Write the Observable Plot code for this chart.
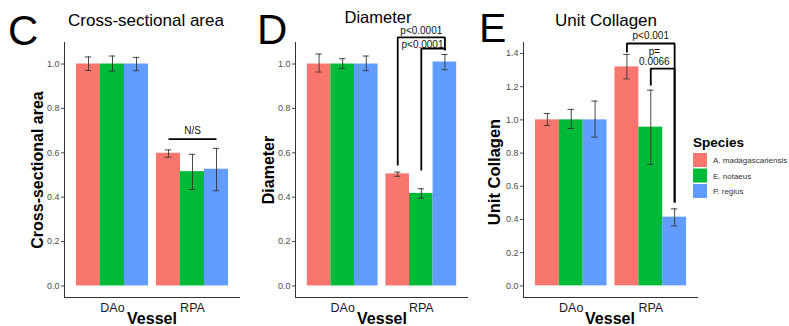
<!DOCTYPE html>
<html><head><meta charset="utf-8">
<script src="https://cdn.jsdelivr.net/npm/d3@7"></script>
<script src="https://cdn.jsdelivr.net/npm/@observablehq/plot@0.6"></script>
<style>
html,body{margin:0;padding:0;background:#fff;}
#wrap{position:relative;width:789px;height:326px;overflow:hidden;font-family:"Liberation Sans",Arial,sans-serif;}
#wrap > div.p{position:absolute;top:0;}
#wrap svg{overflow:visible;}
[aria-label^="x-axis"] text{font-size:12.5px;fill:#1a1a1a;}
#overlay{position:absolute;left:0;top:0;pointer-events:none;}
</style></head><body><div id="wrap"></div>
<script>
// ---- data ----
const species = ["A. madagascariensis", "E. notaeus", "P. regius"];
const vessels = ["DAo", "RPA"];
const colors = ["#F8766D", "#00BA38", "#619CFF"];

// order: DAo (A, E, P), RPA (A, E, P)
const areaMean = [1.0, 1.0, 1.0, 0.598, 0.515, 0.526];
const areaLo   = [0.971, 0.968, 0.970, 0.580, 0.435, 0.429];
const areaHi   = [1.032, 1.036, 1.030, 0.613, 0.593, 0.620];

const diamMean = [1.0, 1.0, 1.0, 0.505, 0.417, 1.009];
const diamLo   = [0.964, 0.980, 0.970, 0.494, 0.396, 0.974];
const diamHi   = [1.045, 1.024, 1.036, 0.513, 0.438, 1.043];

const collMean = [1.0, 1.0, 1.0, 1.319, 0.956, 0.414];
const collLo   = [0.966, 0.948, 0.896, 1.247, 0.731, 0.361];
const collHi   = [1.038, 1.063, 1.113, 1.394, 1.179, 0.464];

const ticks10 = [0, 0.2, 0.4, 0.6, 0.8, 1.0];
const ticks14 = [0, 0.2, 0.4, 0.6, 0.8, 1.0, 1.2, 1.4];

// significance brackets in RPA group (species index from/to, y of top bar, feet)
const areaBrackets = [{from: 0, to: 2, top: 0.662, footFrom: 0.662, footTo: 0.662}];
const areaLabels   = [{k: 1, y: 0.698, text: "N/S"}];
const diamBrackets = [
  {from: 0, to: 2, top: 1.12, footFrom: 0.543, footTo: 1.062},
  {from: 1, to: 2, top: 1.07, footFrom: 0.52, footTo: 1.062}
];
const diamLabels = [
  {k: 1.0, y: 1.149, text: "p<0.0001"},
  {k: 1.05, y: 1.088, text: "p<0.0001"}
];
const collBrackets = [
  {from: 0, to: 2, top: 1.46, footFrom: 1.406, footTo: 0.502},
  {from: 1, to: 2, top: 1.309, footFrom: 1.207, footTo: 0.502}
];
const collLabels = [
  {k: 1.0, y: 1.505, text: "p<0.001"},
  {k: 1.15, y: 1.382, text: "p=\n0.0066"}
];

// ---- helpers ----
const GROUP_W = 0.9, BAR_W = GROUP_W / species.length;
const xc = (g, k) => g - GROUP_W / 2 + BAR_W * (k + 0.5);

function rows(mean, lo, hi) {
  return mean.map((m, i) => {
    const g = Math.floor(i / species.length) + 1, k = i % species.length;
    return {vessel: vessels[g - 1], species: species[k], g, k, mean: m, lo: lo[i], hi: hi[i]};
  });
}
function bracketPts(brs) {
  const pts = [];
  brs.forEach((b, id) => {
    const g = 2;
    pts.push({id, x: xc(g, b.from), y: b.footFrom});
    pts.push({id, x: xc(g, b.from), y: b.top});
    pts.push({id, x: xc(g, b.to), y: b.top});
    pts.push({id, x: xc(g, b.to), y: b.footTo});
  });
  return pts;
}

const FONT = '"Liberation Sans", Arial, sans-serif';
const XDOM = [0.4, 2.6];

function panel({left, width, mL, mR, yDomain, yTicks, mean, lo, hi, brackets, labels}) {
  const data = rows(mean, lo, hi);
  const cap = 0.04;
  const svg = Plot.plot({
    width, height: 326,
    marginTop: 42, marginBottom: 29, marginLeft: mL, marginRight: mR,
    x: {domain: XDOM, ticks: [1, 2], tickFormat: i => vessels[i - 1], tickSize: 0, tickPadding: 6, label: null},
    y: {domain: yDomain, ticks: yTicks, tickFormat: d3.format(".1f"), tickSize: 3, tickPadding: 2, label: null},
    color: {domain: species, range: colors},
    style: {fontFamily: FONT, fontSize: "9px", color: "#4D4D4D", background: "transparent", overflow: "visible"},
    marks: [
      Plot.rect(data, {x1: d => d.g - GROUP_W / 2 + BAR_W * d.k, x2: d => d.g - GROUP_W / 2 + BAR_W * (d.k + 1), y1: 0, y2: "mean", fill: "species"}),
      Plot.ruleX(data, {x: d => xc(d.g, d.k), y1: "lo", y2: "hi", stroke: "#333", strokeWidth: 0.9}),
      Plot.ruleY(data, {y: "lo", x1: d => xc(d.g, d.k) - cap, x2: d => xc(d.g, d.k) + cap, stroke: "#333", strokeWidth: 0.9}),
      Plot.ruleY(data, {y: "hi", x1: d => xc(d.g, d.k) - cap, x2: d => xc(d.g, d.k) + cap, stroke: "#333", strokeWidth: 0.9}),
      Plot.ruleY([yDomain[0]], {stroke: "#333", strokeWidth: 1}),
      Plot.ruleX([XDOM[0]], {stroke: "#333", strokeWidth: 1}),
      Plot.line(bracketPts(brackets), {x: "x", y: "y", z: "id", stroke: "black", strokeWidth: 1.8, strokeLinejoin: "miter", strokeLinecap: "butt"}),
      Plot.text(labels, {x: d => xc(2, d.k), y: "y", text: "text", fontSize: 10, fill: "#111", lineAnchor: "middle", lineHeight: 1.05})
    ]
  });
  const div = document.createElement("div");
  div.className = "p";
  div.style.left = left + "px";
  div.style.width = width + "px";
  div.appendChild(svg);
  document.getElementById("wrap").appendChild(div);
}

panel({left: 0, width: 255, mL: 64, mR: 15, yDomain: [-0.052, 1.097], yTicks: ticks10,
       mean: areaMean, lo: areaLo, hi: areaHi, brackets: areaBrackets, labels: areaLabels});
panel({left: 255, width: 215, mL: 40, mR: 2, yDomain: [-0.052, 1.097], yTicks: ticks10,
       mean: diamMean, lo: diamLo, hi: diamHi, brackets: diamBrackets, labels: diamLabels});
panel({left: 470, width: 319, mL: 53, mR: 91, yDomain: [-0.07, 1.466], yTicks: ticks14,
       mean: collMean, lo: collLo, hi: collHi, brackets: collBrackets, labels: collLabels});

// ---- text overlay: panel letters, titles, axis titles, legend ----
const letters = [["C", 8, 45, 42], ["D", 257, 44, 42], ["E", 479, 42, 41]];
const titles = [["Cross-sectional area", 146, 26, 17], ["Diameter", 378, 23, 16.5], ["Unit Collagen", 606, 26, 17]];
const yTitles = [["Cross-sectional area", 43, 170, 16], ["Diameter", 274, 170, 16], ["Unit Collagen", 500, 172, 16.5]];
const xTitles = [["Vessel", 152, 324], ["Vessel", 382, 324], ["Vessel", 610, 324]];

const ov = d3.select("#wrap").append("svg").attr("id", "overlay").attr("width", 789).attr("height", 326)
  .style("font-family", FONT);
ov.selectAll(".letter").data(letters).join("text").attr("class", "letter")
  .attr("x", d => d[1]).attr("y", d => d[2]).attr("font-size", d => d[3]).attr("fill", "#000").text(d => d[0]);
ov.selectAll(".title").data(titles).join("text").attr("class", "title")
  .attr("x", d => d[1]).attr("y", d => d[2]).attr("font-size", d => d[3]).attr("text-anchor", "middle").attr("fill", "#000").text(d => d[0]);
ov.selectAll(".ytitle").data(yTitles).join("text").attr("class", "ytitle")
  .attr("transform", d => `translate(${d[1]},${d[2]}) rotate(-90)`).attr("font-size", d => d[3]).attr("font-weight", "bold")
  .attr("text-anchor", "middle").attr("fill", "#000").text(d => d[0]);
ov.selectAll(".xtitle").data(xTitles).join("text").attr("class", "xtitle")
  .attr("x", d => d[1]).attr("y", d => d[2]).attr("font-size", 16).attr("font-weight", "bold")
  .attr("text-anchor", "middle").attr("fill", "#000").text(d => d[0]);

// legend
const lg = ov.append("g").attr("transform", "translate(693,138)");
lg.append("text").attr("x", 0).attr("y", 9).attr("font-size", 13.5).attr("font-weight", "bold").attr("fill", "#000").text("Species");
const items = lg.selectAll(".item").data(species).join("g").attr("class", "item")
  .attr("transform", (d, i) => `translate(0,${15 + i * 15.5})`);
items.append("rect").attr("width", 14).attr("height", 14).attr("fill", (d, i) => colors[i]);
items.append("text").attr("x", 20).attr("y", 10).attr("font-size", 8).attr("fill", "#333").text(d => d);
</script></body></html>
